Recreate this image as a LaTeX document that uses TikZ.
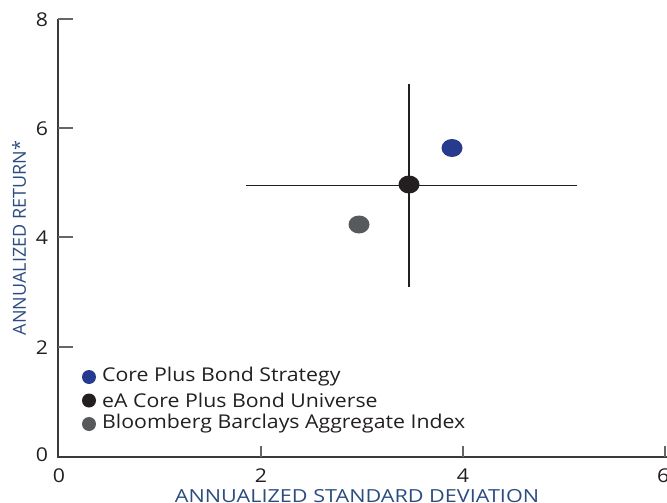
\documentclass[tikz,border=0pt]{standalone}
\usepackage{fontspec}
\setmainfont{Open Sans}[FakeStretch=1.12]
\newfontfamily\xtitlefont{Open Sans}[FakeStretch=1.2]
\newfontfamily\ytitlefont{Open Sans}
\usetikzlibrary{shapes.geometric}
\definecolor{ptblue}{HTML}{263A8E}
\definecolor{ptblack}{HTML}{231F20}
\definecolor{ptgray}{HTML}{58595B}
\definecolor{titleblue}{HTML}{2A4C80}
\definecolor{axisgray}{HTML}{3A3A3A}
\begin{document}
\begin{tikzpicture}[x=1pt,y=-1pt,
  axisline/.style={draw=axisgray,line width=1.1pt},
  tickline/.style={draw=gray!80!black,line width=1.1pt},
  ticklabel/.style={font=\fontsize{19}{22}\selectfont,text=ptblack,inner sep=0pt},
  xtitle/.style={font=\xtitlefont\fontsize{18}{21}\selectfont,text=titleblue,inner sep=0pt},
  ytitle/.style={font=\ytitlefont\fontsize{18}{21}\selectfont,text=titleblue,inner sep=0pt},
  legtext/.style={font=\fontsize{19}{22}\selectfont,text=ptblack,inner sep=0pt,anchor=west},
  dot/.style={ellipse,minimum width=21pt,minimum height=18pt,inner sep=0pt,draw=none},
  legdot/.style={circle,minimum size=14pt,inner sep=0pt,draw=none},
  crossline/.style={draw=ptblack,line width=1.1pt}]
\useasboundingbox (0,0) rectangle (667,503);
% axes
\coordinate (ytop) at (58,19);
\coordinate (orig) at (58,457);
\coordinate (xend) at (667,457);
\draw[axisline] (ytop) -- (orig) -- (xend);
% y ticks
\foreach \v/\yy in {8/19,6/128,4/237,2/347}{
  \draw[tickline] (58,\yy) -- (73,\yy);
  \node[ticklabel] (yl\v) at (42,\yy+1) {\v};
}
\node[ticklabel] (yl0) at (42,455) {0};
% x ticks
\foreach \v/\xx in {2/261,4/463,6/665}{
  \draw[tickline] (\xx,446) -- (\xx,457);
}
\node[ticklabel] (xl0) at (59,475.5) {0};
\node[ticklabel] (xl2) at (261,475.5) {2};
\node[ticklabel] (xl4) at (463,475.5) {4};
\node[ticklabel,anchor=west] (xl6) at (657,475.5) {6};
% axis titles
\node[xtitle] (xtitle) at (357,496) {ANNUALIZED STANDARD DEVIATION};
\node[ytitle,rotate=90] (ytitle) at (19,238) {ANNUALIZED RETURN*};
% cross
\coordinate (hl) at (246,185.5);
\coordinate (hr) at (577,185.5);
\coordinate (vt) at (409,84);
\coordinate (vb) at (409,287);
\draw[crossline] (hl) -- (hr);
\draw[crossline] (vt) -- (vb);
% points
\node[dot,fill=ptblue] (core) at (452,148) {};
\node[dot,fill=ptblack] (univ) at (409,184.5) {};
\node[dot,fill=ptgray] (agg) at (359,224.5) {};
% legend
\node[legdot,fill=ptblue] (lb) at (89,377) {};
\node[legdot,fill=ptblack] (lk) at (89,400.5) {};
\node[legdot,fill=ptgray] (lg) at (89,424) {};
\node[legtext] (tb) at (102,377) {Core Plus Bond Strategy};
\node[legtext] (tk) at (102,400.5) {eA Core Plus Bond Universe};
\node[legtext] (tg) at (102,424) {Bloomberg Barclays Aggregate Index};
\end{tikzpicture}
\end{document}
